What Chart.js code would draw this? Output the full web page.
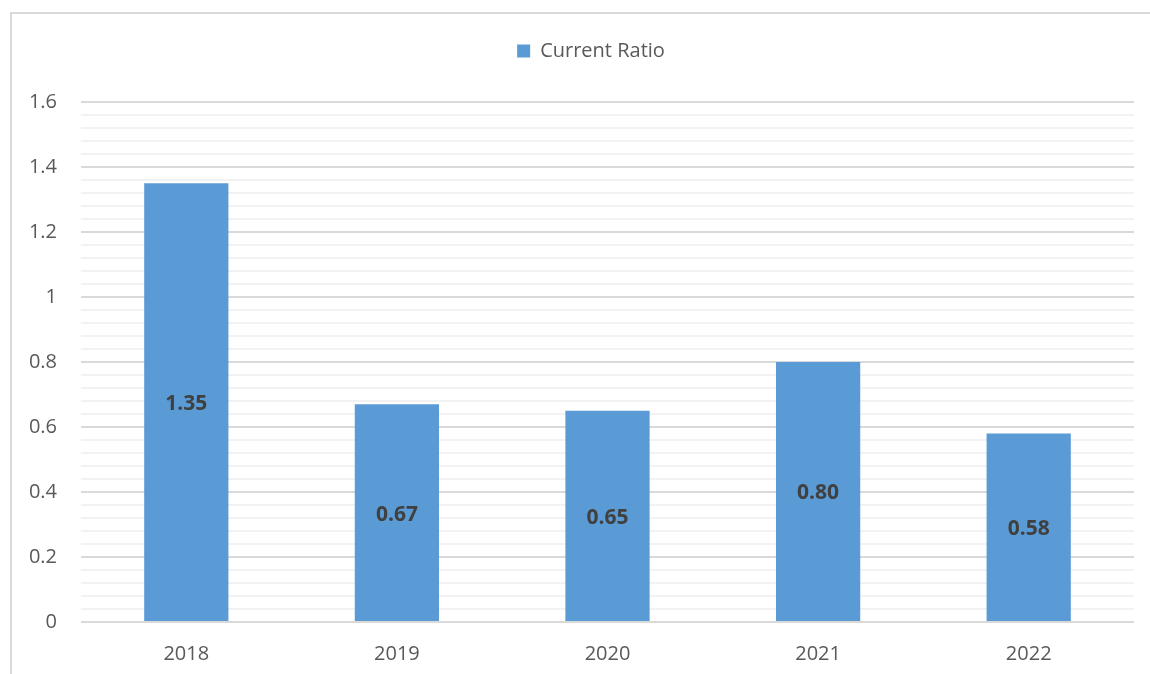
<!DOCTYPE html>
<html>
<head>
<meta charset="utf-8">
<script src="https://cdn.jsdelivr.net/npm/chart.js@4"></script>
<style>
  html, body { margin: 0; padding: 0; background: #fff; }
  body { width: 1150px; height: 674px; position: relative; overflow: hidden; }
  .frame { position: absolute; left: 10px; top: 12px; width: 1150px; height: 700px;
           border-left: 2px solid #d9d9d9; border-top: 2px solid #d9d9d9; }
  #wrap { position: absolute; left: 0; top: 0; width: 1150px; height: 674px; }
</style>
</head>
<body>
<div class="frame"></div>
<div id="wrap"><canvas id="barChart"></canvas></div>
<script>
var years = ['2018', '2019', '2020', '2021', '2022'];
var currentRatio = [1.35, 0.67, 0.65, 0.80, 0.58];
var seriesName = 'Current Ratio';

var fontFamily = '"Open Sans", "Noto Sans", sans-serif';

// draw value labels in the middle of each bar
var centerLabels = {
    id: 'centerLabels',
    afterDatasetsDraw: function(chart) {
        var ctx = chart.ctx;
        var meta = chart.getDatasetMeta(0);
        ctx.save();
        ctx.font = 'bold 21px ' + fontFamily;
        ctx.fillStyle = '#404040';
        ctx.textAlign = 'center';
        ctx.textBaseline = 'middle';
        meta.data.forEach(function(bar, i) {
            var mid = (bar.y + bar.base) / 2;
            ctx.fillText(currentRatio[i].toFixed(2), bar.x, mid + 2);
        });
        ctx.restore();
    }
};

// leave a gap under the legend and nudge it right, like the original
var legendGap = {
    id: 'legendGap',
    afterInit: function(chart) {
        var lg = chart.legend;
        var fit = lg.fit;
        lg.fit = function() {
            fit.call(this);
            this.height += 31;
        };
    },
    afterLayout: function(chart) {
        chart.legend.left += 24;
        chart.legend.right += 24;
    }
};

var ctx = document.getElementById('barChart').getContext('2d');

var myChart = new Chart(ctx, {
    type: 'bar',
    data: {
        labels: years,
        datasets: [{
            label: seriesName,
            data: currentRatio,
            backgroundColor: '#5b9bd5',
            borderWidth: 0,
            categoryPercentage: 1,
            barPercentage: 0.4
        }]
    },
    options: {
        responsive: true,
        maintainAspectRatio: false,
        animation: false,
        layout: { padding: { top: 31, right: 16, left: 0, bottom: 0 } },
        plugins: {
            tooltip: { enabled: false },
            legend: {
                position: 'top',
                labels: {
                    boxWidth: 13,
                    boxHeight: 13,
                    color: '#595959',
                    padding: 10,
                    font: { family: fontFamily, size: 20 }
                }
            }
        },
        scales: {
            x: {
                grid: { display: false, drawTicks: false },
                border: { display: false },
                ticks: {
                    color: '#595959',
                    padding: 20,
                    font: { family: fontFamily, size: 20 }
                },
                afterFit: function(scale) { scale.height = 52; }
            },
            y: {
                min: 0,
                max: 1.6,
                beginAtZero: true,
                border: { display: false },
                grid: {
                    drawTicks: false,
                    lineWidth: 2,
                    color: function(c) {
                        var v = c.tick ? c.tick.value : 0;
                        var r = Math.round(v * 100) % 20;
                        return r === 0 ? '#d9d9d9' : '#f2f2f2';
                    }
                },
                ticks: {
                    stepSize: 0.04,
                    autoSkip: false,
                    color: '#595959',
                    padding: 24,
                    font: { family: fontFamily, size: 20 },
                    callback: function(value) {
                        var r = Math.round(value * 100);
                        if (r % 20 !== 0) return '';
                        return String(Math.round(value * 10) / 10);
                    }
                },
                afterFit: function(scale) { scale.width = 81; }
            }
        }
    },
    plugins: [centerLabels, legendGap]
});
</script>
</body>
</html>
